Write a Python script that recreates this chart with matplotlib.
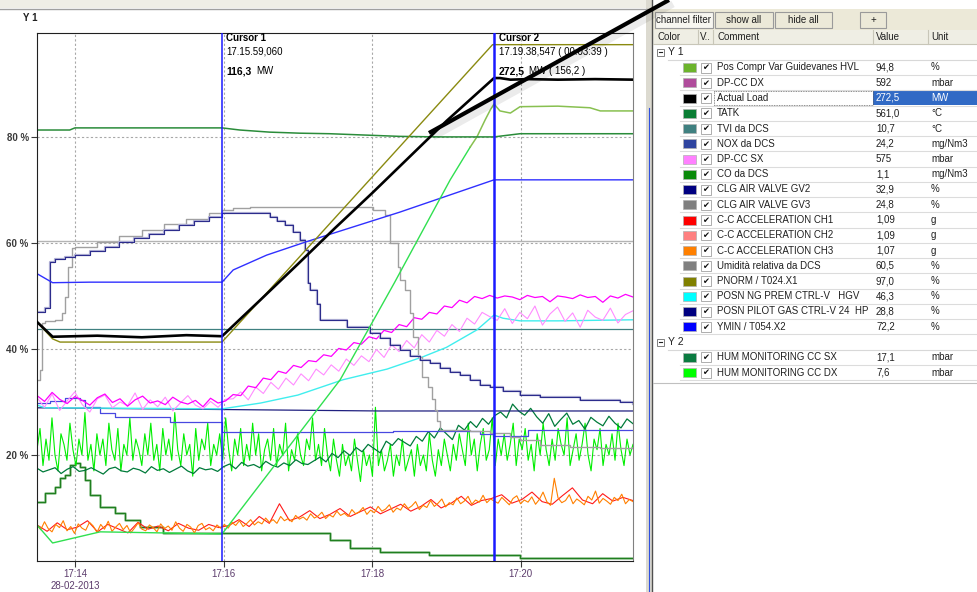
import numpy as np
import matplotlib.pyplot as plt
from matplotlib.patches import Rectangle
from matplotlib.ticker import FixedLocator

plt.rcParams['font.family'] = ['Liberation Sans', 'DejaVu Sans']

# x in minutes after 17:00, y in % of the Y1 scale
T0, T1 = 13.49, 21.51
cursor1 = 15 + 59.060 / 60
cursor2 = 19 + 38.547 / 60

tatk_x = [13.49, 13.93, 14.0, 15.98, 16.22, 16.62, 16.83, 17.03, 17.43, 18.37, 18.91, 19.64, 19.99, 21.51]
tatk_y = [81.3, 81.3, 81.7, 81.7, 81.3, 80.9, 80.8, 80.7, 80.6, 80.1, 80.0, 80.0, 80.6, 80.6]

load_x = [13.49, 13.70, 14.3, 14.9, 15.5, 15.98, 16.5, 17.0, 17.5, 18.0, 18.5, 19.0, 19.3, 19.64, 19.72, 19.86, 20.1, 20.5, 21.0, 21.51]
load_y = [45.1, 42.3, 42.5, 42.2, 42.6, 42.4, 49.3, 56.0, 62.8, 69.4, 76.2, 83.0, 86.8, 91.1, 91.1, 90.8, 90.9, 90.8, 90.9, 90.8]

pnorm_x = [13.49, 13.70, 13.80, 15.98, 19.62, 21.51]
pnorm_y = [45.1, 41.9, 41.3, 41.3, 97.4, 97.4]

ymin_x = [13.49, 13.70, 14.2, 15.98, 16.13, 16.58, 17.11, 18.37, 19.64, 21.51]
ymin_y = [54.2, 52.5, 52.6, 52.6, 54.9, 57.7, 60.2, 65.8, 71.9, 71.9]

nox_x = [13.49, 13.60, 13.66, 13.73, 13.87, 14.0, 14.2, 14.4, 14.6, 14.8, 15.0, 15.2, 15.4, 15.6, 15.8,
         15.98, 16.62, 16.72, 16.83, 16.93, 17.03, 17.10, 17.14, 17.16, 17.26, 17.30, 17.60, 17.66, 17.97,
         18.1, 18.24, 18.37, 18.51, 18.64, 18.78, 18.91, 19.05, 19.18, 19.32, 19.45, 19.59, 19.76, 19.99,
         20.26, 20.8, 21.34, 21.51]
nox_y = [47.0, 47.7, 56.4, 57.0, 57.4, 57.7, 58.5, 59.3, 60.1, 60.9, 61.7, 62.5, 63.3, 64.1, 64.9,
         65.7, 64.8, 64.1, 63.4, 62.0, 60.6, 58.7, 52.5, 51.1, 48.5, 45.5, 45.5, 44.2, 43.0,
         42.0, 40.8, 39.8, 38.6, 37.9, 37.3, 36.5, 35.7, 35.0, 34.2, 33.2, 32.8, 32.0, 31.3,
         30.9, 30.4, 30.0, 29.6]

gv3_x = [13.49, 13.53, 13.56, 13.60, 13.73, 13.83, 13.87, 13.91, 13.96, 14.0, 14.3, 14.6, 14.9, 15.2, 15.5,
         15.8, 15.98, 16.13, 16.36, 17.93, 18.01, 18.17, 18.24, 18.35, 18.37, 18.44, 18.51, 18.55, 18.62,
         18.67, 18.75, 18.81, 18.85, 18.87, 18.91, 19.32, 19.59, 19.86, 19.99, 20.26, 20.66, 21.07, 21.51]
gv3_y = [34.2, 36.0, 44.9, 45.3, 45.5, 46.8, 49.8, 55.5, 59.1, 59.2, 60.2, 61.3, 62.4, 63.5, 64.6,
         65.7, 66.2, 66.6, 66.8, 66.8, 66.2, 65.3, 60.0, 55.5, 53.0, 51.1, 46.8, 42.3, 38.5,
         34.7, 32.8, 30.5, 28.5, 26.5, 24.7, 24.5, 24.2, 23.4, 22.8, 21.9, 21.5, 21.4, 21.5]

umid_level = 60.4
tvi_level = 43.8

posn_ng_x = [13.49, 13.6, 15.98, 16.5, 17.0, 17.61, 18.2, 18.68, 19.0, 19.41, 19.64, 19.76, 19.99, 20.5, 21.0, 21.51]
posn_ng_y = [29.4, 28.9, 28.7, 29.8, 31.3, 34.2, 36.2, 38.5, 40.3, 43.6, 46.4, 45.8, 45.3, 45.3, 45.4, 45.5]

pilot_x = [13.49, 18.1, 21.51]
pilot_y = [28.9, 28.3, 28.3]

gv2_x = [13.49, 13.66, 13.87, 14.07, 14.14, 14.34, 14.54, 15.28, 15.98, 18.28, 19.45, 19.64, 20.10, 21.51]
gv2_y = [29.8, 30.2, 30.8, 30.4, 29.1, 27.9, 27.2, 26.2, 24.3, 24.6, 24.0, 23.6, 24.7, 24.7]

co_x = [13.49, 13.60, 13.73, 13.80, 13.87, 13.93, 14.0, 14.07, 14.14, 14.20, 14.34, 14.54, 14.67, 14.88,
        15.18, 17.23, 17.43, 17.70, 18.1, 18.77, 19.86, 19.99, 21.51]
co_y = [11.1, 12.8, 14.0, 15.7, 16.2, 18.1, 18.5, 17.7, 15.3, 12.5, 10.2, 9.1, 7.7, 6.4,
        5.3, 5.3, 4.0, 2.5, 1.7, 1.1, 1.1, 0.6, 0.6]

rise_x = [13.49, 13.70, 14.34, 15.98, 16.8, 17.57, 18.3, 19.05, 19.32]
rise_y = [6.8, 3.4, 5.5, 5.1, 20.1, 34.2, 52.5, 71.9, 78.1]

guide_x = [19.32, 19.41, 19.52, 19.59, 19.64, 19.72, 19.86, 19.99, 20.5, 20.93, 21.07, 21.51]
guide_y = [78.1, 80.0, 83.2, 85.1, 86.2, 84.9, 84.5, 85.7, 85.8, 85.5, 84.9, 84.9]

# --- noisy channels, samples evenly spread over the window ---
dpcc_dx = [31.2, 30.1, 31.8, 30.5, 29.7, 31.0, 30.3, 29.4, 30.8, 31.5, 29.9, 30.6, 29.2, 30.4, 31.1, 29.8,
           30.2, 29.5, 30.9, 30.0, 29.6, 30.3, 29.1, 30.7, 29.8, 30.2,
           31.4, 31.2, 33.0, 32.7, 34.5, 34.2, 35.8, 35.4, 36.9, 36.5, 37.8, 37.6, 38.9, 38.6, 40.1, 39.8,
           41.2, 40.9, 42.3, 41.9, 43.5, 43.1, 44.6, 44.2, 45.9, 45.6, 46.9, 46.6, 48.1, 47.8, 49.2, 48.7,
           49.9, 49.5, 50.1,
           49.6, 50.0, 49.8, 49.3, 50.1, 49.7, 49.9, 48.9, 50.0, 49.8, 49.5, 50.2, 49.7, 49.9, 48.8, 50.0,
           49.6, 50.3, 49.8]
dpcc_sx = [30.8, 29.0, 31.5, 28.4, 30.2, 31.9, 29.5, 28.1, 30.6, 31.3, 28.9, 30.0, 29.3, 31.7, 28.6, 30.4,
           29.1, 30.9, 28.3, 29.8, 31.2, 29.4, 28.7, 30.1, 29.0, 30.5,
           30.6, 31.9, 30.4, 32.8, 31.6, 33.7, 32.4, 34.5, 33.2, 35.3, 34.0, 36.2, 35.1, 37.0, 35.8, 38.1,
           36.9, 38.7, 37.6, 39.9, 38.4, 40.8, 39.5, 41.6, 40.2, 42.7, 41.3, 43.5, 42.4, 44.6, 43.3, 45.8,
           44.7, 46.9, 46.1,
           45.4, 47.6, 44.8, 46.9, 45.7, 48.1, 44.5, 46.6, 47.9, 45.2, 46.8, 44.1, 47.3, 46.0, 45.4, 47.7,
           44.9, 46.5, 47.2]
hum_dx = [21, 25, 18, 23, 19, 27, 20, 17, 24, 22, 19, 26, 21, 18, 23, 20, 28, 19, 22, 17,
          24, 20, 23, 18, 26, 21, 19, 25, 17, 22, 20, 27, 19, 23, 21, 18, 24, 20, 26, 19,
          22, 17, 25, 20, 23, 19, 28, 21, 18, 24, 20, 22, 16, 25, 19, 23, 21, 26, 18, 22,
          20, 24, 19, 27, 21, 17, 23, 20, 25, 18, 22, 19, 26, 20, 24, 17, 21, 23, 19, 25,
          18, 22, 20, 26, 17, 21, 19, 24, 20, 18, 23, 21, 27, 19, 22, 18, 25, 20, 17, 23,
          19, 16, 22, 18, 20, 17, 23, 19, 15, 21, 18, 20, 16, 29, 18, 21, 17, 19, 22, 16,
          20, 18, 23, 17, 19, 21, 16, 22, 18, 20, 17, 24, 19, 16, 21, 18, 23, 20, 17, 22,
          19, 24, 21, 18, 26, 20, 23, 17, 22, 25, 19, 21, 27, 18, 23, 20, 24, 19, 22, 26,
          18, 23, 21, 25, 19, 22, 17, 24, 20, 26, 21, 18, 23, 19, 25, 22, 20, 27, 18, 21,
          24, 19, 22, 26, 20, 17, 23, 21, 25, 18, 22, 20, 24, 19, 26, 21, 18, 23, 20, 22]
hum_sx = [17.5, 16.8, 17.2, 17.6, 16.5, 17.3, 17.8, 16.9, 17.1, 17.6, 17.0, 16.4, 17.4, 17.7, 17.0, 16.8,
          17.5, 17.2, 16.6, 17.8, 17.1, 17.4, 16.7, 17.3, 17.9, 17.0, 16.5, 17.6, 17.2, 17.4, 16.9,
          17.8, 18.3, 17.4, 18.6, 17.9, 18.2, 17.6, 18.8, 18.1, 17.7, 18.5, 18.0, 19.1, 18.4, 18.2,
          18.9, 19.6, 18.7, 20.3, 19.5, 20.8, 19.9, 21.4, 20.6, 22.0, 21.2, 20.4, 22.6, 21.8, 23.1, 22.4, 21.7,
          23.5, 22.6, 24.4, 23.2, 25.1, 24.0, 22.9, 25.6, 24.7, 26.3, 25.2, 26.9, 25.8, 27.4,
          28.1, 27.0, 29.6, 28.3, 27.5, 28.8,
          27.2, 26.0, 27.8, 25.4, 26.7, 27.9, 25.8, 26.5, 24.9, 27.1, 26.2, 25.5, 27.3, 26.0, 25.1, 26.8, 25.9]
acc_ch3 = [6.8, 5.9, 7.4, 6.1, 5.5, 6.9, 6.3, 7.6, 5.7, 6.5, 5.2, 7.0, 6.2, 5.8, 7.3, 6.6, 5.4, 6.9, 6.0, 7.5,
           5.6, 6.4, 7.1, 5.9, 6.7, 5.3, 6.2, 7.2, 6.0, 5.7, 6.8, 6.3, 5.5, 7.0, 6.1, 6.6, 5.8, 7.4, 6.2, 5.6,
           6.9, 6.4, 5.3, 6.7, 7.1, 5.9, 6.3, 5.7, 6.8, 6.2,
           6.9, 6.2, 7.3, 6.7, 7.6, 6.5, 7.1, 7.8, 6.8, 7.4, 7.0, 8.1, 7.3, 7.8, 7.1, 8.4, 7.6, 8.0, 7.4, 8.6,
           7.9, 8.3, 7.7, 8.9, 8.1, 8.5, 9.2, 8.0, 8.7, 8.3, 9.4, 8.6, 9.0, 8.4, 9.7, 8.9, 9.3, 10.1, 8.8, 9.6,
           9.1, 10.3, 9.4, 9.8, 10.6, 9.2, 10.0, 9.6, 10.8, 9.9, 10.4, 11.2, 9.7, 10.5, 10.1, 11.4, 10.3, 10.9,
           11.7, 10.2, 11.0, 10.6, 11.9, 10.8, 11.3, 12.2, 10.7, 11.5, 11.1, 12.4, 11.0, 11.7, 11.3,
           10.9, 12.0, 11.3, 10.6, 11.8, 12.3, 10.8, 11.5, 11.1, 12.1, 10.7, 11.6, 13.0, 11.2, 10.5, 15.6,
           11.9, 11.0, 11.4, 12.5, 10.8, 11.7, 11.2, 10.6, 12.2, 11.5, 13.2, 10.9, 11.8, 11.3, 10.7, 12.0,
           11.4, 12.6, 10.8, 11.6, 11.2]
acc_ch1 = [6.8, 5.6, 7.2, 5.9, 6.4, 7.6, 5.5, 6.9, 6.1, 5.3, 7.3, 6.0, 6.6, 5.7, 7.1, 6.2, 5.8, 6.9, 6.3,
           6.7, 7.8, 6.5, 8.4, 7.1, 10.8, 7.6, 8.3, 9.5, 8.0, 8.8, 9.9, 8.4, 9.3, 10.2, 8.9, 9.8, 10.7,
           9.4, 10.3, 11.6, 10.0, 10.9, 12.2, 10.5, 11.4,
           11.8, 12.5, 10.9, 11.6, 13.0, 11.2, 10.7, 12.3, 13.8, 11.5, 10.8, 12.7, 11.3, 12.0, 11.4]

# --- channel list on the right ---
y1_names = ['Pos Compr Var Guidevanes HVL', 'DP-CC DX', 'Actual Load', 'TATK', 'TVI da DCS', 'NOX da DCS',
            'DP-CC SX', 'CO da DCS', 'CLG AIR VALVE GV2', 'CLG AIR VALVE GV3', 'C-C ACCELERATION CH1',
            'C-C ACCELERATION CH2', 'C-C ACCELERATION CH3', 'Umidità relativa da DCS', 'PNORM / T024.X1',
            'POSN NG PREM CTRL-V   HGV', 'POSN PILOT GAS CTRL-V 24  HP', 'YMIN / T054.X2']
y1_values = ['94,8', '592', '272,5', '561,0', '10,7', '24,2', '575', '1,1', '32,9', '24,8', '1,09', '1,09',
             '1,07', '60,5', '97,0', '46,3', '28,8', '72,2']
y1_units = ['%', 'mbar', 'MW', '°C', '°C', 'mg/Nm3', 'mbar', 'mg/Nm3', '%', '%', 'g', 'g', 'g', '%', '%',
            '%', '%', '%']
y1_colors = ['#6cb42c', '#b04c9c', '#000000', '#0a7e34', '#3f8080', '#2f45a0', '#ff80ff', '#0a8a0a',
             '#000080', '#808080', '#ff0000', '#ff8080', '#ff8000', '#808080', '#808000', '#00ffff',
             '#000080', '#0000ff']
y2_names = ['HUM MONITORING CC SX', 'HUM MONITORING CC DX']
y2_values = ['17,1', '7,6']
y2_units = ['mbar', 'mbar']
y2_colors = ['#0a7a40', '#00ff00']

x_ticks = [14, 16, 18, 20]
x_labels = ['17:14\n28-02-2013', '17:16', '17:18', '17:20']
y_ticks = [20, 40, 60, 80]

W, H = 977, 592
fig = plt.figure(figsize=(W / 100, H / 100), dpi=100)
ax = fig.add_axes([37 / W, 1 - 561 / H, (633 - 37) / W, (561 - 33) / H])
ax.set_xlim(T0, T1)
ax.set_ylim(0, 99.6)


def tgrid(vals):
    return np.linspace(T0, T1, len(vals))


# horizontal constant channels
ax.axhline(umid_level, color='#b4b4b4', lw=1.0, zorder=2)
ax.axhline(tvi_level, color='#3f8080', lw=0.9, zorder=2)

ax.plot(co_x, co_y, color='#9cc89c', lw=1.8, drawstyle='steps-post', zorder=2)
ax.plot(co_x, co_y, color='#1f7f1f', lw=0.9, drawstyle='steps-post', zorder=2)
ax.plot(tgrid(acc_ch1), acc_ch1, color='#ff1a1a', lw=0.8, zorder=2)
ax.plot(tgrid(acc_ch3), acc_ch3, color='#ff8000', lw=0.8, zorder=2)
ax.plot(tgrid(hum_dx), hum_dx, color='#00ee00', lw=0.8, zorder=2)
ax.plot(tgrid(hum_sx), hum_sx, color='#007a3a', lw=0.9, zorder=2)
ax.plot(gv2_x, gv2_y, color='#4848e0', lw=0.9, drawstyle='steps-post', zorder=2)
ax.plot(pilot_x, pilot_y, color='#202080', lw=0.9, zorder=2)
ax.plot(posn_ng_x, posn_ng_y, color='#40eeee', lw=1.0, zorder=2)
ax.plot(tgrid(dpcc_sx), dpcc_sx, color='#ff8cff', lw=0.8, zorder=2)
ax.plot(tgrid(dpcc_dx), dpcc_dx, color='#ff00ff', lw=0.9, zorder=2)
ax.plot(gv3_x, gv3_y, color='#a0a0a0', lw=1.0, drawstyle='steps-post', zorder=2)
ax.plot(nox_x, nox_y, color='#b0b0d4', lw=1.6, drawstyle='steps-post', zorder=2)
ax.plot(nox_x, nox_y, color='#2c2c8c', lw=0.8, drawstyle='steps-post', zorder=2)
ax.plot(ymin_x, ymin_y, color='#3030ff', lw=1.0, zorder=2)
ax.plot(rise_x, rise_y, color='#30e050', lw=1.0, zorder=2)
ax.plot(guide_x, guide_y, color='#88c050', lw=1.1, zorder=2)
ax.plot(tatk_x, tatk_y, color='#2a8c3a', lw=1.1, zorder=2)
ax.plot(pnorm_x, pnorm_y, color='#8a8a10', lw=1.0, zorder=3)
ax.plot(load_x, load_y, color='black', lw=1.9, zorder=4)

ax.axvline(cursor1, color='#1a1aff', lw=1.1, zorder=5)
ax.axvline(cursor2, color='#1a1aff', lw=1.8, zorder=5)

ax.xaxis.set_major_locator(FixedLocator(x_ticks))
ax.set_xticklabels(x_labels)
ax.yaxis.set_major_locator(FixedLocator(y_ticks))
ax.set_yticklabels([f'{v} %' for v in y_ticks], fontweight='bold')
ax.tick_params(axis='x', direction='out', length=4, labelsize=7, colors='#3a3a3a', labelcolor='#5c3c6c', pad=2)
ax.tick_params(axis='y', direction='out', length=4, labelsize=7, colors='#3a3a3a', labelcolor='#3a3a3a', pad=2)
ax.grid(True, color='#a8a8a8', lw=0.8, linestyle=(0, (2, 2)), zorder=1)
ax.set_axisbelow(True)
for s in ['left', 'bottom', 'top']:
    ax.spines[s].set_color('#202020')
ax.spines['right'].set_color('#808080')

# overlay in pixel coordinates for labels, side panel and the drawn arrows
ov = fig.add_axes([0, 0, 1, 1], zorder=10)
ov.set_xlim(0, W)
ov.set_ylim(H, 0)
ov.axis('off')
ov.patch.set_alpha(0)

ov.add_patch(Rectangle((0, 0), 650, 8, facecolor='#efeee6', edgecolor='none'))
ov.plot([0, 650], [9, 9], color='#a0a0a0', lw=1)
ov.text(23, 18, 'Y 1', fontsize=7, fontweight='bold', va='center', color='#202020')

fs = 7
ov.text(226, 38, 'Cursor 1', fontsize=fs, fontweight='bold', va='center')
ov.text(226, 52, '17.15.59,060', fontsize=fs, va='center')
ov.text(226, 71, '116,3', fontsize=fs + 0.5, fontweight='bold', va='center')
ov.text(256, 71, 'MW', fontsize=fs, va='center')
ov.text(499, 38, 'Cursor 2', fontsize=fs, fontweight='bold', va='center')
ov.text(499, 52, '17.19.38,547 ( 00.03:39 )', fontsize=fs, va='center')
ov.text(499, 71, '272,5', fontsize=fs + 0.5, fontweight='bold', va='center')
ov.text(529, 71, 'MW ( 156,2 )', fontsize=fs, va='center')

# side panel
ov.add_patch(Rectangle((646, 0), 6, H, facecolor='#dcdad0', edgecolor='none'))
ov.plot([652, 652], [0, H], color='#505050', lw=1)
ov.plot([649, 649], [108, H], color='#3050e0', lw=0.8)
ov.add_patch(Rectangle((653, 9), W - 653, 21, facecolor='#ece9d8', edgecolor='none'))
buttons = [(655, 713, 'channel filter', '#f7f6f0'), (715, 773, 'show all', '#ece9d8'),
           (775, 832, 'hide all', '#ece9d8'), (860, 886, '+', '#ece9d8')]
for x0, x1, lab, fc in buttons:
    ov.add_patch(Rectangle((x0, 12), x1 - x0, 16, facecolor=fc, edgecolor='#9a9a9a', lw=0.8))
    ov.text((x0 + x1) / 2, 20, lab, fontsize=fs, ha='center', va='center', color='#202020')

ov.add_patch(Rectangle((653, 30), W - 653, 14, facecolor='#efeee4', edgecolor='none'))
for xs in [698, 713, 873, 928]:
    ov.plot([xs, xs], [30, 44], color='#c8c6b8', lw=0.8)
ov.plot([653, W], [44, 44], color='#c8c6b8', lw=0.8)
for xh, lab in [(657, 'Color'), (700, 'V..'), (717, 'Comment'), (876, 'Value'), (931, 'Unit')]:
    ov.text(xh, 37, lab, fontsize=fs, va='center', color='#202020')


def group_header(y, label):
    ov.add_patch(Rectangle((657, y - 3.5), 7, 7, facecolor='white', edgecolor='#808080', lw=0.7))
    ov.plot([658.8, 662.2], [y, y], color='#202020', lw=0.8)
    ov.text(668, y, label, fontsize=fs + 0.5, va='center', color='#202020')
    ov.plot([668, W], [y + 8, y + 8], color='#d8d8d8', lw=0.8)


def channel_row(y, name, val, unit, col, selected=False):
    ov.add_patch(Rectangle((683, y - 4.5), 13, 9, facecolor=col, edgecolor='#b0b0b0', lw=0.5))
    ov.add_patch(Rectangle((701, y - 5), 10, 10, facecolor='white', edgecolor='#a0a0a0', lw=0.6))
    ov.text(706, y + 0.3, '✔', fontsize=6, ha='center', va='center', color='#101010',
            family=['DejaVu Sans'])
    tc = '#202020'
    if selected:
        ov.add_patch(Rectangle((873, y - 7), W - 873, 14, facecolor='#316ac5', edgecolor='none'))
        ov.add_patch(Rectangle((714, y - 7), 159, 14, facecolor='none', edgecolor='#606060',
                               lw=0.6, linestyle=(0, (1, 1))))
    ov.text(717, y, name, fontsize=fs, va='center', color=tc)
    ov.text(876, y, val, fontsize=fs, va='center', color='white' if selected else tc)
    ov.text(931, y, unit, fontsize=fs, va='center', color='white' if selected else tc)
    ov.plot([680, W], [y + 7.6, y + 7.6], color='#dcdcdc', lw=0.8)


row_h = 15.25
group_header(52, 'Y 1')
for k, (n, v, u, c) in enumerate(zip(y1_names, y1_values, y1_units, y1_colors)):
    channel_row(67.5 + row_h * k, n, v, u, c, selected=(n == 'Actual Load'))
y2_top = 67.5 + row_h * len(y1_names)
group_header(y2_top, 'Y 2')
for k, (n, v, u, c) in enumerate(zip(y2_names, y2_values, y2_units, y2_colors)):
    channel_row(y2_top + row_h * (k + 1), n, v, u, c)
ov.plot([653, W], [y2_top + row_h * 2 + 10, y2_top + row_h * 2 + 10], color='#c0c0c0', lw=0.8)

# hand-drawn pointers on top of the screenshot
ov.plot([433, 673], [137, 4], color='#000000', lw=5, alpha=0.08, solid_capstyle='butt')
ov.plot([429, 669], [133, 0], color='#000000', lw=3, solid_capstyle='butt')
ov.annotate('', xy=(618, 600), xytext=(531, 500),
            arrowprops=dict(arrowstyle='-|>,head_length=0.9,head_width=0.45', color='#e8821e', lw=2.5))

fig.savefig('out.png', dpi=100)
